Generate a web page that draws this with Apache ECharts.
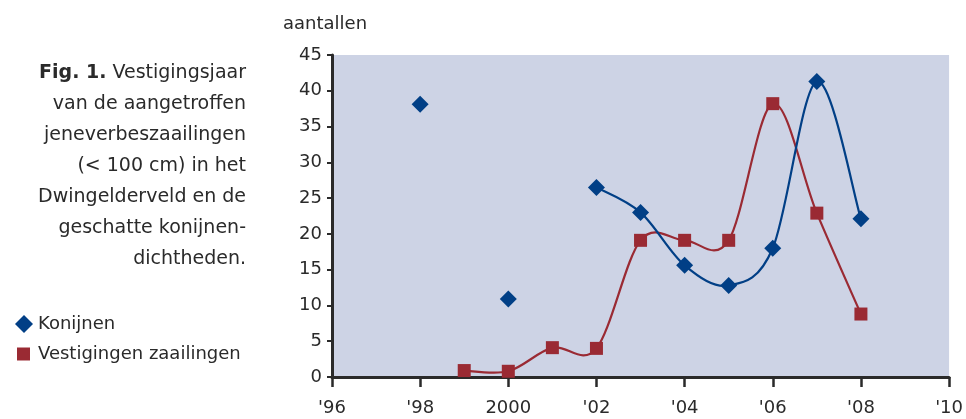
<!DOCTYPE html>
<html><head><meta charset="utf-8">
<script src="https://cdn.jsdelivr.net/npm/echarts@6/dist/echarts.min.js"></script>
<style>html,body{margin:0;padding:0;background:#fff}#c{width:966px;height:419px}</style>
</head><body><div id="c"></div>
<script>
const yearTicks = [1996, 1998, 2000, 2002, 2004, 2006, 2008, 2010];
const tickLabels = ["'96", "'98", "2000", "'02", "'04", "'06", "'08", "'10"];
const konijnenIsolatedYears = [1998, 2000];
const konijnenIsolated = [38.1, 10.9];
const konijnenYears = [2002, 2003, 2004, 2005, 2006, 2007, 2008];
const konijnen = [26.5, 23.0, 15.6, 12.8, 18.0, 41.3, 22.1];
const vestYears = [1999, 2000, 2001, 2002, 2003, 2004, 2005, 2006, 2007, 2008];
const vestigingen = [0.9, 0.8, 4.1, 4.0, 19.1, 19.1, 19.1, 38.2, 22.9, 8.8];

const BLUE = '#013f86', RED = '#9a2a33', INK = '#2a2a2a';
const FONT = 'DejaVu Sans';
const pairs = (xs, ys) => xs.map((x, i) => [x, ys[i]]);

// Smooth curve (Catmull-Rom style) drawn through the axis scales via api.coord
function smoothRenderer(data, color) {
  return function (params, api) {
    const i = params.dataIndex, n = data.length;
    if (i >= n - 1) return null;
    const P = k => api.coord(data[Math.max(0, Math.min(n - 1, k))]);
    const p0 = P(i - 1), p1 = P(i), p2 = P(i + 1), p3 = P(i + 2);
    const t = 1 / 6;
    return {
      type: 'bezierCurve',
      shape: {
        x1: p1[0], y1: p1[1], x2: p2[0], y2: p2[1],
        cpx1: p1[0] + (p2[0] - p0[0]) * t, cpy1: p1[1] + (p2[1] - p0[1]) * t,
        cpx2: p2[0] - (p3[0] - p1[0]) * t, cpy2: p2[1] - (p3[1] - p1[1]) * t
      },
      style: { stroke: color, lineWidth: 2.2, fill: null }
    };
  };
}

const vestData = pairs(vestYears, vestigingen);
const konData = pairs(konijnenYears, konijnen);

const chart = echarts.init(document.getElementById('c'));
chart.setOption({
  animation: false,
  textStyle: { fontFamily: FONT },
  grid: { left: 332, right: 14, top: 55, bottom: 42, show: true, backgroundColor: '#cdd3e5', borderWidth: 0 },
  xAxis: {
    type: 'value', min: 1996, max: 2010, interval: 2,
    axisLine: { show: true, lineStyle: { color: INK, width: 3 } },
    axisTick: { show: true, length: 10, inside: false, lineStyle: { color: INK, width: 2.5 } },
    splitLine: { show: false },
    axisLabel: { fontSize: 18, color: INK, margin: 22, fontFamily: FONT,
      formatter: v => { const i = yearTicks.indexOf(v); return i >= 0 ? tickLabels[i] : ''; } }
  },
  yAxis: {
    type: 'value', min: 0, max: 45, interval: 5,
    axisLine: { show: true, lineStyle: { color: INK, width: 3 } },
    axisTick: { show: true, length: 5, lineStyle: { color: INK, width: 2 } },
    splitLine: { show: false },
    axisLabel: { fontSize: 18, color: INK, margin: 10, fontFamily: FONT }
  },
  legend: [
    { orient: 'vertical', left: 10, top: 310, itemWidth: 18, itemHeight: 18,
      textStyle: { fontSize: 18, color: INK, fontFamily: FONT },
      data: [{ name: 'Konijnen', icon: 'diamond' }] },
    { orient: 'vertical', left: 12, top: 340, itemWidth: 13, itemHeight: 13,
      textStyle: { fontSize: 18, color: INK, fontFamily: FONT, padding: [0, 0, 0, 3] },
      data: [{ name: 'Vestigingen zaailingen', icon: 'rect' }] }
  ],
  graphic: [
    { type: 'text', x: 283, y: 15, style: { text: 'aantallen', fontSize: 18, fill: INK, fontFamily: FONT } },
    { type: 'text', x: 246, y: 58, style: {
      text: '{b|Fig. 1.} Vestigingsjaar\nvan de aangetroffen\njeneverbeszaailingen\n(< 100 cm) in het\nDwingelderveld en de\ngeschatte konijnen-\ndichtheden.',
      align: 'right', verticalAlign: 'top', fontSize: 19, lineHeight: 31, fill: INK, fontFamily: FONT,
      rich: { b: { fontWeight: 'bold', fontSize: 19, lineHeight: 31, fill: INK, fontFamily: FONT } }
    } }
  ],
  series: [
    { name: 'Vestigingen zaailingen', type: 'custom', data: vestData, encode: { x: 0, y: 1 },
      renderItem: smoothRenderer(vestData, RED), itemStyle: { color: RED }, z: 2 },
    { name: 'Konijnen', type: 'custom', data: konData, encode: { x: 0, y: 1 },
      renderItem: smoothRenderer(konData, BLUE), itemStyle: { color: BLUE }, z: 2 },
    { name: 'Vestigingen zaailingen', type: 'scatter', data: vestData,
      symbol: 'rect', symbolSize: 13, itemStyle: { color: RED, opacity: 1 }, z: 4 },
    { name: 'Konijnen', type: 'scatter', data: konData,
      symbol: 'diamond', symbolSize: 17, itemStyle: { color: BLUE, opacity: 1 }, z: 5 },
    { name: 'Konijnen', type: 'scatter', data: pairs(konijnenIsolatedYears, konijnenIsolated),
      symbol: 'diamond', symbolSize: 17, itemStyle: { color: BLUE, opacity: 1 }, z: 5 }
  ]
});
</script></body></html>
